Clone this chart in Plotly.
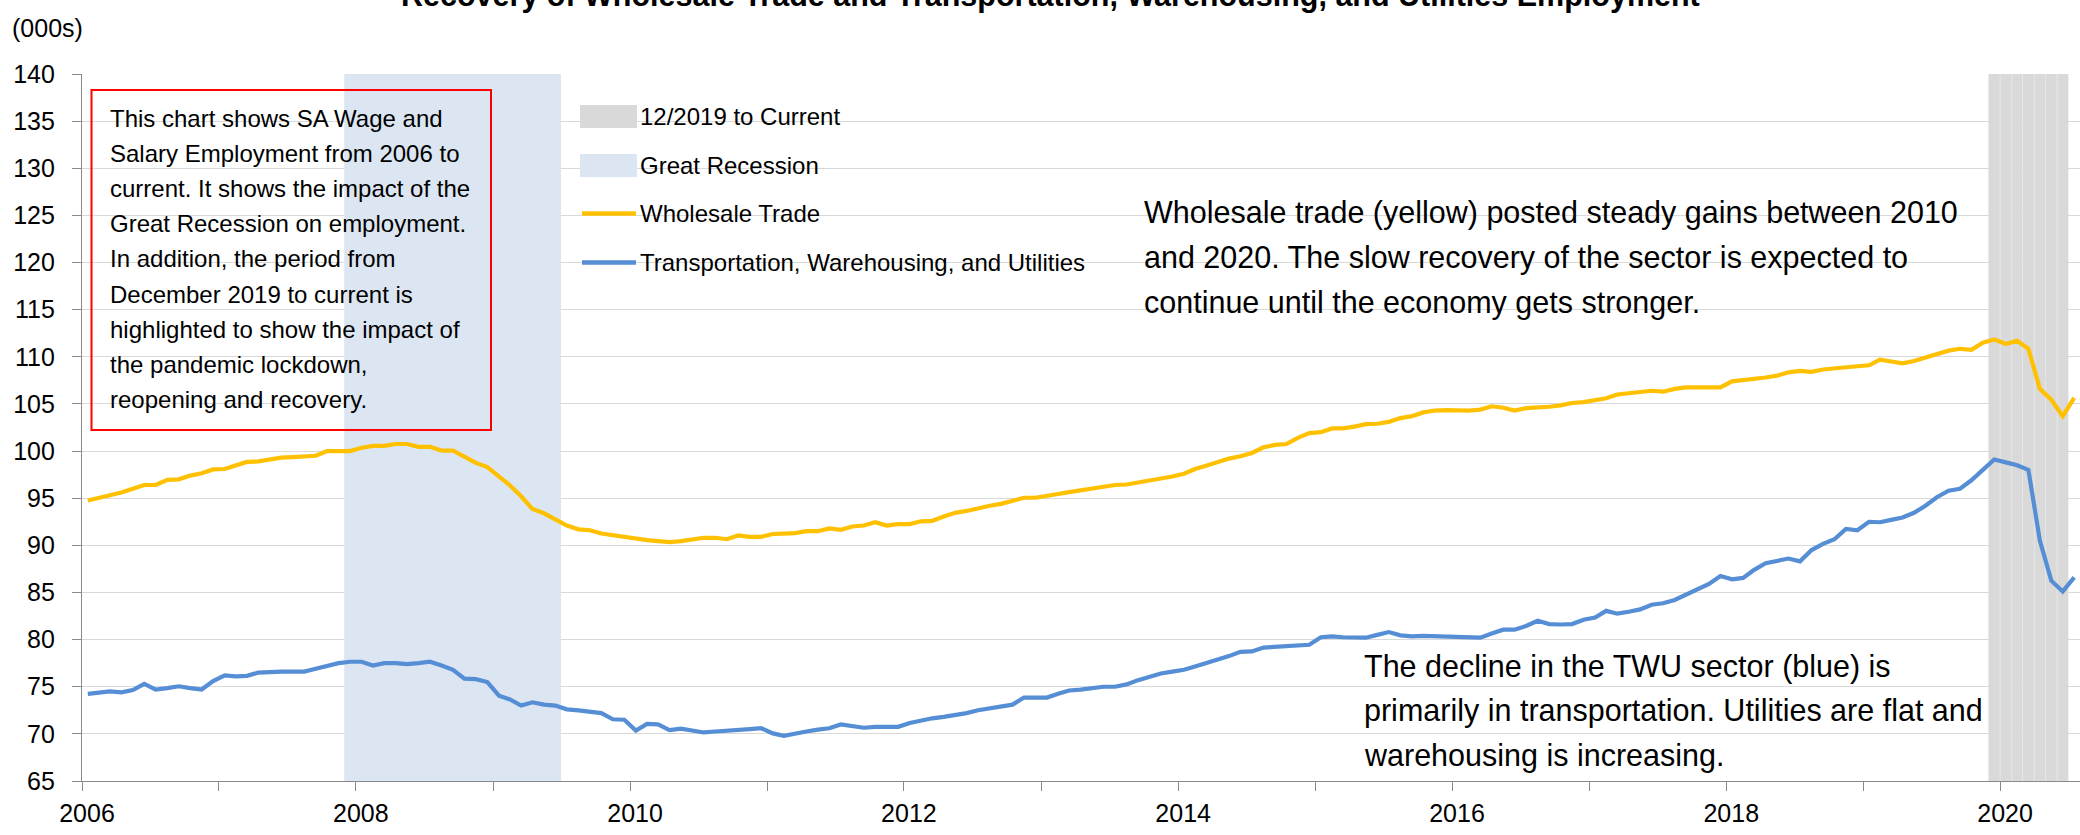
import pandas as pd
import plotly.graph_objects as go

# ---------------- data ----------------
start_month = "2006-01"

wholesale = [
    94.75, 95.0, 95.25, 95.6, 96.0, 96.4, 96.4, 96.95, 97.0, 97.4, 97.65, 98.05,      # 2006
    98.1, 98.5, 98.85, 98.9, 99.1, 99.3, 99.35, 99.45, 99.5, 100.0, 100.0, 100.0,     # 2007
    100.35, 100.55, 100.55, 100.75, 100.75, 100.45, 100.45, 100.05, 100.05, 99.35, 98.75, 98.3,  # 2008
    97.25, 96.35, 95.2, 93.85, 93.4, 92.8, 92.1, 91.7, 91.6, 91.25, 91.05, 90.9,     # 2009
    90.65, 90.55, 90.45, 90.35, 90.45, 90.65, 90.8, 90.8, 90.65, 91.05, 90.9, 90.9,  # 2010
    91.2, 91.25, 91.3, 91.5, 91.5, 91.8, 91.65, 92.0, 92.1, 92.45, 92.1, 92.25,      # 2011
    92.25, 92.55, 92.6, 93.05, 93.45, 93.65, 93.95, 94.2, 94.4, 94.7, 95.05, 95.05,  # 2012
    95.3, 95.45, 95.65, 95.85, 95.95, 96.15, 96.4, 96.45, 96.65, 96.9, 97.1, 97.3,   # 2013
    97.6, 98.1, 98.45, 98.85, 99.2, 99.45, 99.8, 100.4, 100.65, 100.75, 101.4, 101.9,  # 2014
    102.0, 102.4, 102.4, 102.6, 102.85, 102.9, 103.1, 103.5, 103.7, 104.1, 104.3, 104.35,  # 2015
    104.3, 104.3, 104.4, 104.75, 104.6, 104.3, 104.55, 104.6, 104.7, 104.85, 105.1, 105.2,  # 2016
    105.45, 105.6, 106.0, 106.1, 106.2, 106.4, 106.3, 106.6, 106.75, 106.75, 106.75, 106.75,  # 2017
    107.4, 107.5, 107.6, 107.8, 108.0, 108.35, 108.5, 108.4, 108.65, 108.8, 108.95, 109.0,  # 2018
    109.1, 109.7, 109.5, 109.3, 109.55, 109.9, 110.25, 110.65, 110.85, 110.75, 111.5, 111.85,  # 2019
    111.35, 111.7, 110.85, 106.6, 105.45, 103.7, 105.65,                                     # 2020
]

twu = [
    74.25, 74.4, 74.5, 74.4, 74.65, 75.3, 74.7, 74.85, 75.05, 74.85, 74.7, 75.6,     # 2006
    76.2, 76.1, 76.15, 76.5, 76.6, 76.6, 76.6, 76.6, 76.9, 77.2, 77.5, 77.65,        # 2007
    77.65, 77.25, 77.5, 77.5, 77.4, 77.5, 77.65, 77.25, 76.8, 75.85, 75.8, 75.5,     # 2008
    74.05, 73.65, 73.0, 73.35, 73.1, 73.0, 72.6, 72.5, 72.4, 72.2, 71.55, 71.5,      # 2009
    70.35, 71.05, 71.0, 70.4, 70.55, 70.35, 70.15, 70.25, 70.3, 70.35, 70.5, 70.6,   # 2010
    70.05, 69.8, 70.05, 70.25, 70.45, 70.6, 71.0, 70.8, 70.65, 70.75, 70.8, 70.75,   # 2011
    71.15, 71.45, 71.65, 71.8, 71.95, 72.2, 72.5, 72.7, 72.8, 73.1, 73.85, 73.85,    # 2012
    73.85, 74.25, 74.6, 74.7, 74.85, 75.0, 75.0, 75.25, 75.7, 76.1, 76.4, 76.6,      # 2013
    76.8, 77.15, 77.5, 77.85, 78.25, 78.7, 78.75, 79.15, 79.2, 79.3, 79.35, 79.45,   # 2014
    80.25, 80.35, 80.25, 80.25, 80.2, 80.5, 80.8, 80.45, 80.35, 80.4, 80.35, 80.4,   # 2015
    80.3, 80.2, 80.2, 80.65, 81.05, 81.05, 81.45, 82.0, 81.65, 81.6, 81.65, 82.1,    # 2016
    82.35, 83.05, 82.75, 82.95, 83.2, 83.7, 83.85, 84.2, 84.8, 85.4, 85.9, 86.75,    # 2017
    86.4, 86.55, 87.4, 88.1, 88.3, 88.6, 88.3, 89.5, 90.15, 90.65, 91.75, 91.6,      # 2018
    92.5, 92.45, 92.7, 92.95, 93.45, 94.2, 95.1, 95.8, 96.0, 96.9, 98.0, 99.1,       # 2019
    98.8, 98.5, 98.0, 90.5, 86.25, 85.1, 86.6,                                        # 2020
]

recession_start = "2007-12"
recession_end = "2009-06"
pandemic_start = "2019-12"
pandemic_end = "2020-06"

y_ticks = list(range(65, 141, 5))
x_tick_years = list(range(2006, 2021))
x_range = ["2006-01-01", "2020-08-01"]
y_range = [65, 140]

title_text = "Recovery of Wholesale Trade and Transportation, Warehousing, and Utilities Employment"
unit_text = "(000s)"
legend_labels = ["12/2019 to Current", "Great Recession", "Wholesale Trade",
                 "Transportation, Warehousing, and Utilities"]
box_lines = [
    "This chart shows SA Wage and",
    "Salary Employment from 2006 to",
    "current. It shows the impact of the",
    "Great Recession on employment.",
    "In addition, the period from",
    "December 2019 to current is",
    "highlighted to show the impact of",
    "the pandemic lockdown,",
    "reopening and recovery.",
]
note_wholesale = [
    "Wholesale trade (yellow) posted steady gains between 2010",
    "and 2020. The slow recovery of the sector is expected to",
    "continue until the economy gets stronger.",
]
note_twu = [
    "The decline in the TWU sector (blue) is",
    "primarily in transportation. Utilities are flat and",
    "warehousing is increasing.",
]

# ---------------- styles ----------------
YELLOW = "#FFC000"
BLUE = "#558ED5"
REC_FILL = "#DCE6F2"
PAN_FILL = "#D9D9D9"
GRID = "#D9D9D9"
AXIS = "#898989"
FONT = "Liberation Sans, Arial, sans-serif"

W, H = 2080, 835
PL, PR, PT, PB = 82, 2080, 74, 781


def fx(px):
    return (px - PL) / (PR - PL)


def fy(py):
    return (PB - py) / (PB - PT)


months = pd.period_range(start_month, periods=len(wholesale), freq="M")
x_mid = [p.start_time + (p.end_time - p.start_time) / 2 for p in months]

fig = go.Figure()
fig.add_trace(go.Scatter(x=x_mid, y=wholesale, mode="lines", name=legend_labels[2],
                         line=dict(color=YELLOW, width=4.2), showlegend=False))
fig.add_trace(go.Scatter(x=x_mid, y=twu, mode="lines", name=legend_labels[3],
                         line=dict(color=BLUE, width=4.2), showlegend=False))

shapes = []
# Great Recession band
shapes.append(dict(type="rect", xref="x", yref="y", layer="between",
                   x0=pd.Period(recession_start, "M").start_time,
                   x1=pd.Period(recession_end, "M").end_time,
                   y0=y_range[0], y1=y_range[1], fillcolor=REC_FILL, line=dict(width=0)))
# Pandemic band: one column per month
pan_months = pd.period_range(pandemic_start, pandemic_end, freq="M")
for p in pan_months:
    shapes.append(dict(type="rect", xref="x", yref="y", layer="between",
                       x0=p.start_time, x1=p.end_time, y0=y_range[0], y1=y_range[1],
                       fillcolor=PAN_FILL, line=dict(width=0)))
for p in pan_months[1:]:
    shapes.append(dict(type="line", xref="x", yref="y", layer="between",
                       x0=p.start_time, x1=p.start_time, y0=y_range[0], y1=y_range[1],
                       line=dict(color="#E6E6E6", width=1)))

# text box border
shapes.append(dict(type="rect", xref="paper", yref="paper",
                   x0=fx(91.5), x1=fx(491), y0=fy(430), y1=fy(90),
                   line=dict(color="#FF0000", width=2), fillcolor="rgba(0,0,0,0)"))

# manual legend swatches
sw_x0, sw_x1 = 580, 637
shapes.append(dict(type="rect", xref="paper", yref="paper", x0=fx(sw_x0), x1=fx(sw_x1),
                   y0=fy(128), y1=fy(105), fillcolor=PAN_FILL, line=dict(width=0)))
shapes.append(dict(type="rect", xref="paper", yref="paper", x0=fx(sw_x0), x1=fx(sw_x1),
                   y0=fy(177), y1=fy(154), fillcolor=REC_FILL, line=dict(width=0)))
shapes.append(dict(type="line", xref="paper", yref="paper", x0=fx(582), x1=fx(636),
                   y0=fy(213.5), y1=fy(213.5), line=dict(color=YELLOW, width=4.5)))
shapes.append(dict(type="line", xref="paper", yref="paper", x0=fx(582), x1=fx(636),
                   y0=fy(262.5), y1=fy(262.5), line=dict(color=BLUE, width=4.5)))

annotations = []


def add_text(text, px, py, size, bold=False, anchor="left"):
    annotations.append(dict(
        text=f"<b>{text}</b>" if bold else text,
        xref="paper", yref="paper", x=fx(px), y=fy(py),
        xanchor=anchor, yanchor="middle", showarrow=False,
        font=dict(family=FONT, size=size, color="#000000"),
        borderpad=0, borderwidth=0,
    ))


add_text(title_text, 1050, -4, 30.5, bold=True, anchor="center")
add_text(unit_text, 12, 28, 25)

for lbl, py in zip(legend_labels, [116.5, 165.5, 213.5, 262.5]):
    add_text(lbl, 640, py, 24)

for k, line in enumerate(box_lines):
    add_text(line, 110, 118 + 35.2 * k, 24)

for k, line in enumerate(note_wholesale):
    add_text(line, 1144, 212.5 + 45 * k, 30.5)

for k, line in enumerate(note_twu):
    add_text(line, 1364, 666.3 + 44.5 * k, 30.5)

tick_vals = [pd.Timestamp(f"{y}-01-01") for y in x_tick_years]
tick_text = [str(y) if (y - x_tick_years[0]) % 2 == 0 else "" for y in x_tick_years]

fig.update_layout(
    width=W, height=H,
    margin=dict(l=PL, r=W - PR, t=PT, b=H - PB, pad=0),
    paper_bgcolor="white", plot_bgcolor="white",
    font=dict(family=FONT, color="#000000"),
    showlegend=False,
    shapes=shapes,
    annotations=annotations,
    xaxis=dict(
        type="date", range=x_range, automargin=False,
        tickmode="array", tickvals=tick_vals, ticktext=tick_text,
        ticks="outside", ticklen=9, tickwidth=1.3, tickcolor=AXIS,
        showline=True, linecolor=AXIS, linewidth=1.3,
        showgrid=False, zeroline=False,
        tickfont=dict(family=FONT, size=25, color="#000000"),
        ticklabelstandoff=1, ticklabelshift=5,
    ),
    yaxis=dict(
        range=y_range, automargin=False,
        tickmode="array", tickvals=y_ticks,
        ticks="outside", ticklen=9, tickwidth=1.3, tickcolor=AXIS,
        showline=True, linecolor=AXIS, linewidth=1.3,
        showgrid=True, gridcolor=GRID, gridwidth=1.3, zeroline=False,
        tickfont=dict(family=FONT, size=25, color="#000000"),
        ticklabelstandoff=12,
    ),
)

fig.write_html(
    "out.html",
    config={"displayModeBar": False},
    post_script="document.body.style.margin='0px';document.body.style.overflow='hidden';",
)
